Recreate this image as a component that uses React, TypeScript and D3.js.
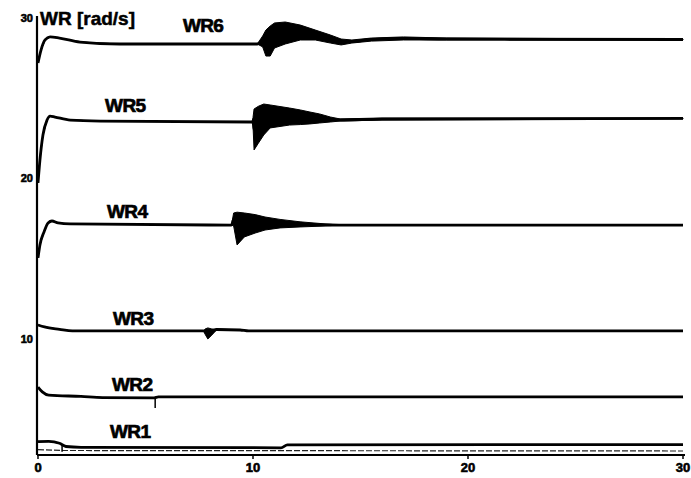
import React from 'react';
import * as d3 from 'd3';

// rotor speed traces: [time s, lower envelope, upper envelope] in rad/s
const wr6: [number, number, number][] = [
  [0, 27.2, 27.2], [0.14, 28.0, 28.0], [0.33, 28.63, 28.63], [0.56, 28.82, 28.82],
  [1.0, 28.75, 28.75], [1.95, 28.5, 28.5], [3.8, 28.38, 28.38], [10.2, 28.38, 28.38],
  [10.45, 28.2, 28.88], [10.6, 27.63, 29.25], [10.8, 27.63, 29.5], [11.0, 28.13, 29.69],
  [11.5, 28.38, 29.75], [12.2, 28.63, 29.56], [12.9, 28.63, 29.25], [13.6, 28.44, 28.94],
  [14.1, 28.32, 28.69], [14.6, 28.44, 28.63], [15.5, 28.56, 28.75], [17, 28.63, 28.82],
  [19, 28.63, 28.75], [30, 28.63, 28.69],
];
const wr5: [number, number, number][] = [
  [0, 19.72, 19.72], [0.09, 21.15, 21.15], [0.23, 22.71, 22.71], [0.42, 23.64, 23.64],
  [0.56, 23.89, 23.89], [0.79, 23.83, 23.83], [1.5, 23.64, 23.64], [2.9, 23.58, 23.58],
  [9.95, 23.52, 23.52], [10.0, 23.3, 23.8], [10.05, 21.78, 24.33], [10.25, 22.2, 24.5],
  [10.5, 22.71, 24.64], [10.8, 23.15, 24.58], [11.7, 23.33, 24.39], [12.2, 23.36, 24.27],
  [12.65, 23.4, 24.14], [13.1, 23.46, 24.02], [13.6, 23.52, 23.83], [14.05, 23.58, 23.71],
  [16, 23.64, 23.77], [30, 23.71, 23.77],
];
const wr4: [number, number, number][] = [
  [0, 15.05, 15.05], [0.09, 15.86, 15.86], [0.28, 16.67, 16.67], [0.47, 17.23, 17.23],
  [0.65, 17.35, 17.35], [0.93, 17.23, 17.23], [1.49, 17.17, 17.17], [9.0, 17.1, 17.1],
  [9.1, 17.04, 17.85], [9.26, 15.86, 17.9], [9.6, 16.36, 17.85], [10.1, 16.6, 17.75],
  [10.56, 16.79, 17.6], [11.26, 16.92, 17.45], [12.19, 16.98, 17.3], [13.35, 17.04, 17.17],
  [14, 17.1, 17.1], [30, 17.1, 17.1],
];
const wr3: [number, number, number][] = [
  [0, 10.87, 10.87], [0.3, 10.75, 10.75], [1.0, 10.6, 10.6], [1.6, 10.5, 10.5],
  [7.7, 10.5, 10.5], [7.77, 10.3, 10.62], [7.9, 10.0, 10.69], [8.09, 10.25, 10.62],
  [8.3, 10.56, 10.62], [9.4, 10.56, 10.56], [9.8, 10.5, 10.5], [30, 10.5, 10.5],
];
const wr2: [number, number, number][] = [
  [0, 7.0, 7.0], [0.2, 6.7, 6.7], [0.5, 6.5, 6.5], [2, 6.42, 6.42],
  [3, 6.35, 6.35], [5.4, 6.33, 6.33], [5.6, 6.39, 6.39], [30, 6.39, 6.39],
];
const wr1: [number, number, number][] = [
  [0, 3.6, 3.6], [0.5, 3.62, 3.62], [1.0, 3.5, 3.5], [1.3, 3.3, 3.3],
  [2, 3.25, 3.25], [11.3, 3.22, 3.22], [11.6, 3.4, 3.4], [30, 3.42, 3.42],
];
const wr1Lower: [number, number][] = [[0, 3.1], [1.2, 3.05], [30, 3.02]];

const seriesNames = ['WR6', 'WR5', 'WR4', 'WR3', 'WR2', 'WR1'];
const seriesData = [wr6, wr5, wr4, wr3, wr2, wr1];
// label anchors (time, value) for the text baseline-left
const labelT = [6.74, 3.12, 3.21, 3.49, 3.44, 3.35];
const labelV = [29.13, 24.14, 17.54, 10.87, 6.76, 3.83];

// small stray marks in the scan: [time, top value, bottom value]
const marks: [number, number, number][] = [[5.45, 6.39, 5.7], [1.12, 3.4, 2.97]];

const xTicks = [0, 10, 20, 30];
const yTicks = [10, 20, 30];

const W = 691;
const H = 478;

const App: React.FC = () => {
  const x = d3.scaleLinear().domain([0, 30]).range([38, 683]);
  const y = d3.scaleLinear().domain([2.77, 30]).range([455, 18]);

  const area = d3.area<[number, number, number]>()
    .x(d => x(d[0]))
    .y0(d => y(d[1]))
    .y1(d => y(d[2]));
  const mid = d3.line<[number, number, number]>()
    .x(d => x(d[0]))
    .y(d => y((d[1] + d[2]) / 2))
    .curve(d3.curveMonotoneX);
  const thin = d3.line<[number, number]>()
    .x(d => x(d[0]))
    .y(d => y(d[1]));

  const font = '"Liberation Sans", Arial, sans-serif';

  return (
    <svg width={W} height={H} style={{ position: 'absolute', left: 0, top: 0, background: '#fff' }}>
      <rect width={W} height={H} fill="#fff" />

      {/* axes */}
      <line x1={x(0) - 1} x2={x(0) - 1} y1={y(30) - 2} y2={y(2.77)} stroke="#000" strokeWidth={2.2} />
      <line x1={x(0) - 1} x2={x(30) + 2} y1={y(2.77)} y2={y(2.77)} stroke="#000" strokeWidth={2.2} />
      {xTicks.map(t => (
        <g key={t}>
          <line x1={x(t)} x2={x(t)} y1={y(2.77)} y2={y(2.77) + 4} stroke="#000" strokeWidth={1.5} />
          <text x={x(t)} y={y(2.77) + 17} textAnchor="middle" fontFamily={font}
            fontWeight="bold" fontSize={13} stroke="#000" strokeWidth={0.6}>{t}</text>
        </g>
      ))}
      {yTicks.map(v => (
        <text key={v} x={33} y={y(v) + 4} textAnchor="end" fontFamily={font}
          fontWeight="bold" fontSize={11} stroke="#000" strokeWidth={0.6}>{v}</text>
      ))}
      <text x={40} y={25} fontFamily={font} fontWeight="bold" fontSize={19}
        stroke="#000" strokeWidth={0.5}>WR [rad/s]</text>

      {/* traces */}
      <path d={thin(wr1Lower) ?? ''} fill="none" stroke="#222" strokeWidth={1.2} strokeDasharray="6 2" />
      {seriesData.map((s, i) => (
        <g key={seriesNames[i]}>
          <path d={area(s) ?? ''} fill="#000" stroke="#000" strokeWidth={1} />
          <path d={mid(s) ?? ''} fill="none" stroke="#000" strokeWidth={2.8} />
          <text x={x(labelT[i])} y={y(labelV[i])} fontFamily={font} fontWeight="bold"
            fontSize={19} letterSpacing={-0.6} stroke="#000" strokeWidth={0.7}>{seriesNames[i]}</text>
        </g>
      ))}
      {marks.map((m, i) => (
        <line key={i} x1={x(m[0])} x2={x(m[0])} y1={y(m[1])} y2={y(m[2])} stroke="#000" strokeWidth={1.5} />
      ))}
    </svg>
  );
};

export default App;
